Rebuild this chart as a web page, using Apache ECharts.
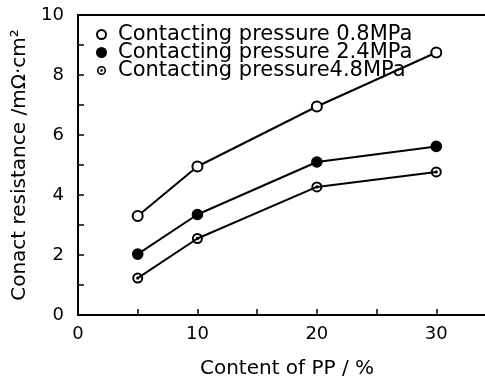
<!DOCTYPE html>
<html><head><meta charset="utf-8">
<script src="https://cdn.jsdelivr.net/npm/echarts@6/dist/echarts.min.js"></script>
<style>html,body{margin:0;padding:0;background:#fff}#c{width:485px;height:376px}</style>
</head><body><div id="c"></div>
<script>
const xValues = [5, 10, 20, 30];
const series08 = [3.3, 4.95, 6.95, 8.75];
const series24 = [2.03, 3.35, 5.1, 5.62];
const series48 = [1.23, 2.55, 4.27, 4.77];
const seriesNames = ['Contacting pressure 0.8MPa', 'Contacting pressure 2.4MPa', 'Contacting pressure4.8MPa'];
const xTickLabels = ['0', '10', '20', '30'];
const yTickLabels = ['0', '2', '4', '6', '8', '10'];

const FONT = 'DejaVu Sans';
const dotCircle = 'path://M0,-5A5,5 0 1,1 0,5A5,5 0 1,1 0,-5Z M0,-3.2A3.2,3.2 0 1,0 0,3.2A3.2,3.2 0 1,0 0,-3.2Z M0,-1.5A1.5,1.5 0 1,1 0,1.5A1.5,1.5 0 1,1 0,-1.5Z';
const pairs = a => xValues.map((x, i) => [x, a[i]]);

const chart = echarts.init(document.getElementById('c'), null, {renderer: 'canvas'});
const base = {
  type: 'line', symbolSize: 10,
  lineStyle: {color: '#000', width: 2},
  itemStyle: {color: '#000', borderColor: '#000', borderWidth: 1.6},
  z: 3
};
chart.setOption({
  animation: false,
  backgroundColor: '#fff',
  textStyle: {fontFamily: FONT, color: '#000'},
  grid: {left: 78, top: 15, width: 418, height: 300, containLabel: false, outerBoundsMode: 'none'},
  legend: {
    orient: 'vertical', left: 91, top: 19, itemGap: -3,
    itemWidth: 9, itemHeight: 9,
    textStyle: {fontFamily: FONT, fontSize: 21, lineHeight: 18, color: '#000', padding: [0, 0, 0, 7]},
    data: [
      {name: seriesNames[0], icon: 'emptyCircle'},
      {name: seriesNames[1], icon: 'circle'},
      {name: seriesNames[2], icon: dotCircle}
    ]
  },
  xAxis: [{
    type: 'value', min: 0, max: 35, interval: 5,
    name: 'Content of PP / %', nameLocation: 'middle', nameGap: 44,
    nameTextStyle: {fontFamily: FONT, fontSize: 20, color: '#000'},
    axisLine: {lineStyle: {color: '#000', width: 2}},
    axisTick: {inside: true, length: 6, lineStyle: {color: '#000', width: 1.5}},
    axisLabel: {fontFamily: FONT, fontSize: 18, color: '#000', margin: 10,
      formatter: v => xTickLabels.includes(String(v)) ? String(v) : ''},
    splitLine: {show: false}
  }, {
    type: 'value', position: 'top', min: 0, max: 35,
    axisLine: {show: true, onZero: false, lineStyle: {color: '#000', width: 2}},
    axisTick: {show: false}, axisLabel: {show: false}, splitLine: {show: false}
  }],
  yAxis: {
    type: 'value', min: 0, max: 10, interval: 1,
    name: 'Conact resistance /mΩ·cm²', nameLocation: 'middle', nameGap: 46,
    nameTextStyle: {fontFamily: FONT, fontSize: 20, color: '#000'},
    axisLine: {show: true, lineStyle: {color: '#000', width: 2}},
    axisTick: {inside: true, length: 6, lineStyle: {color: '#000', width: 1.5}},
    axisLabel: {fontFamily: FONT, fontSize: 18, color: '#000', margin: 14,
      formatter: v => yTickLabels.includes(String(v)) ? String(v) : ''},
    splitLine: {show: false}
  },
  series: [
    Object.assign({}, base, {name: seriesNames[0], symbol: 'emptyCircle', data: pairs(series08)}),
    Object.assign({}, base, {name: seriesNames[1], symbol: 'circle', data: pairs(series24)}),
    Object.assign({}, base, {name: seriesNames[2], symbol: dotCircle, symbolSize: 11, itemStyle: {color: '#000', borderWidth: 0}, data: pairs(series48)})
  ]
});
</script></body></html>
